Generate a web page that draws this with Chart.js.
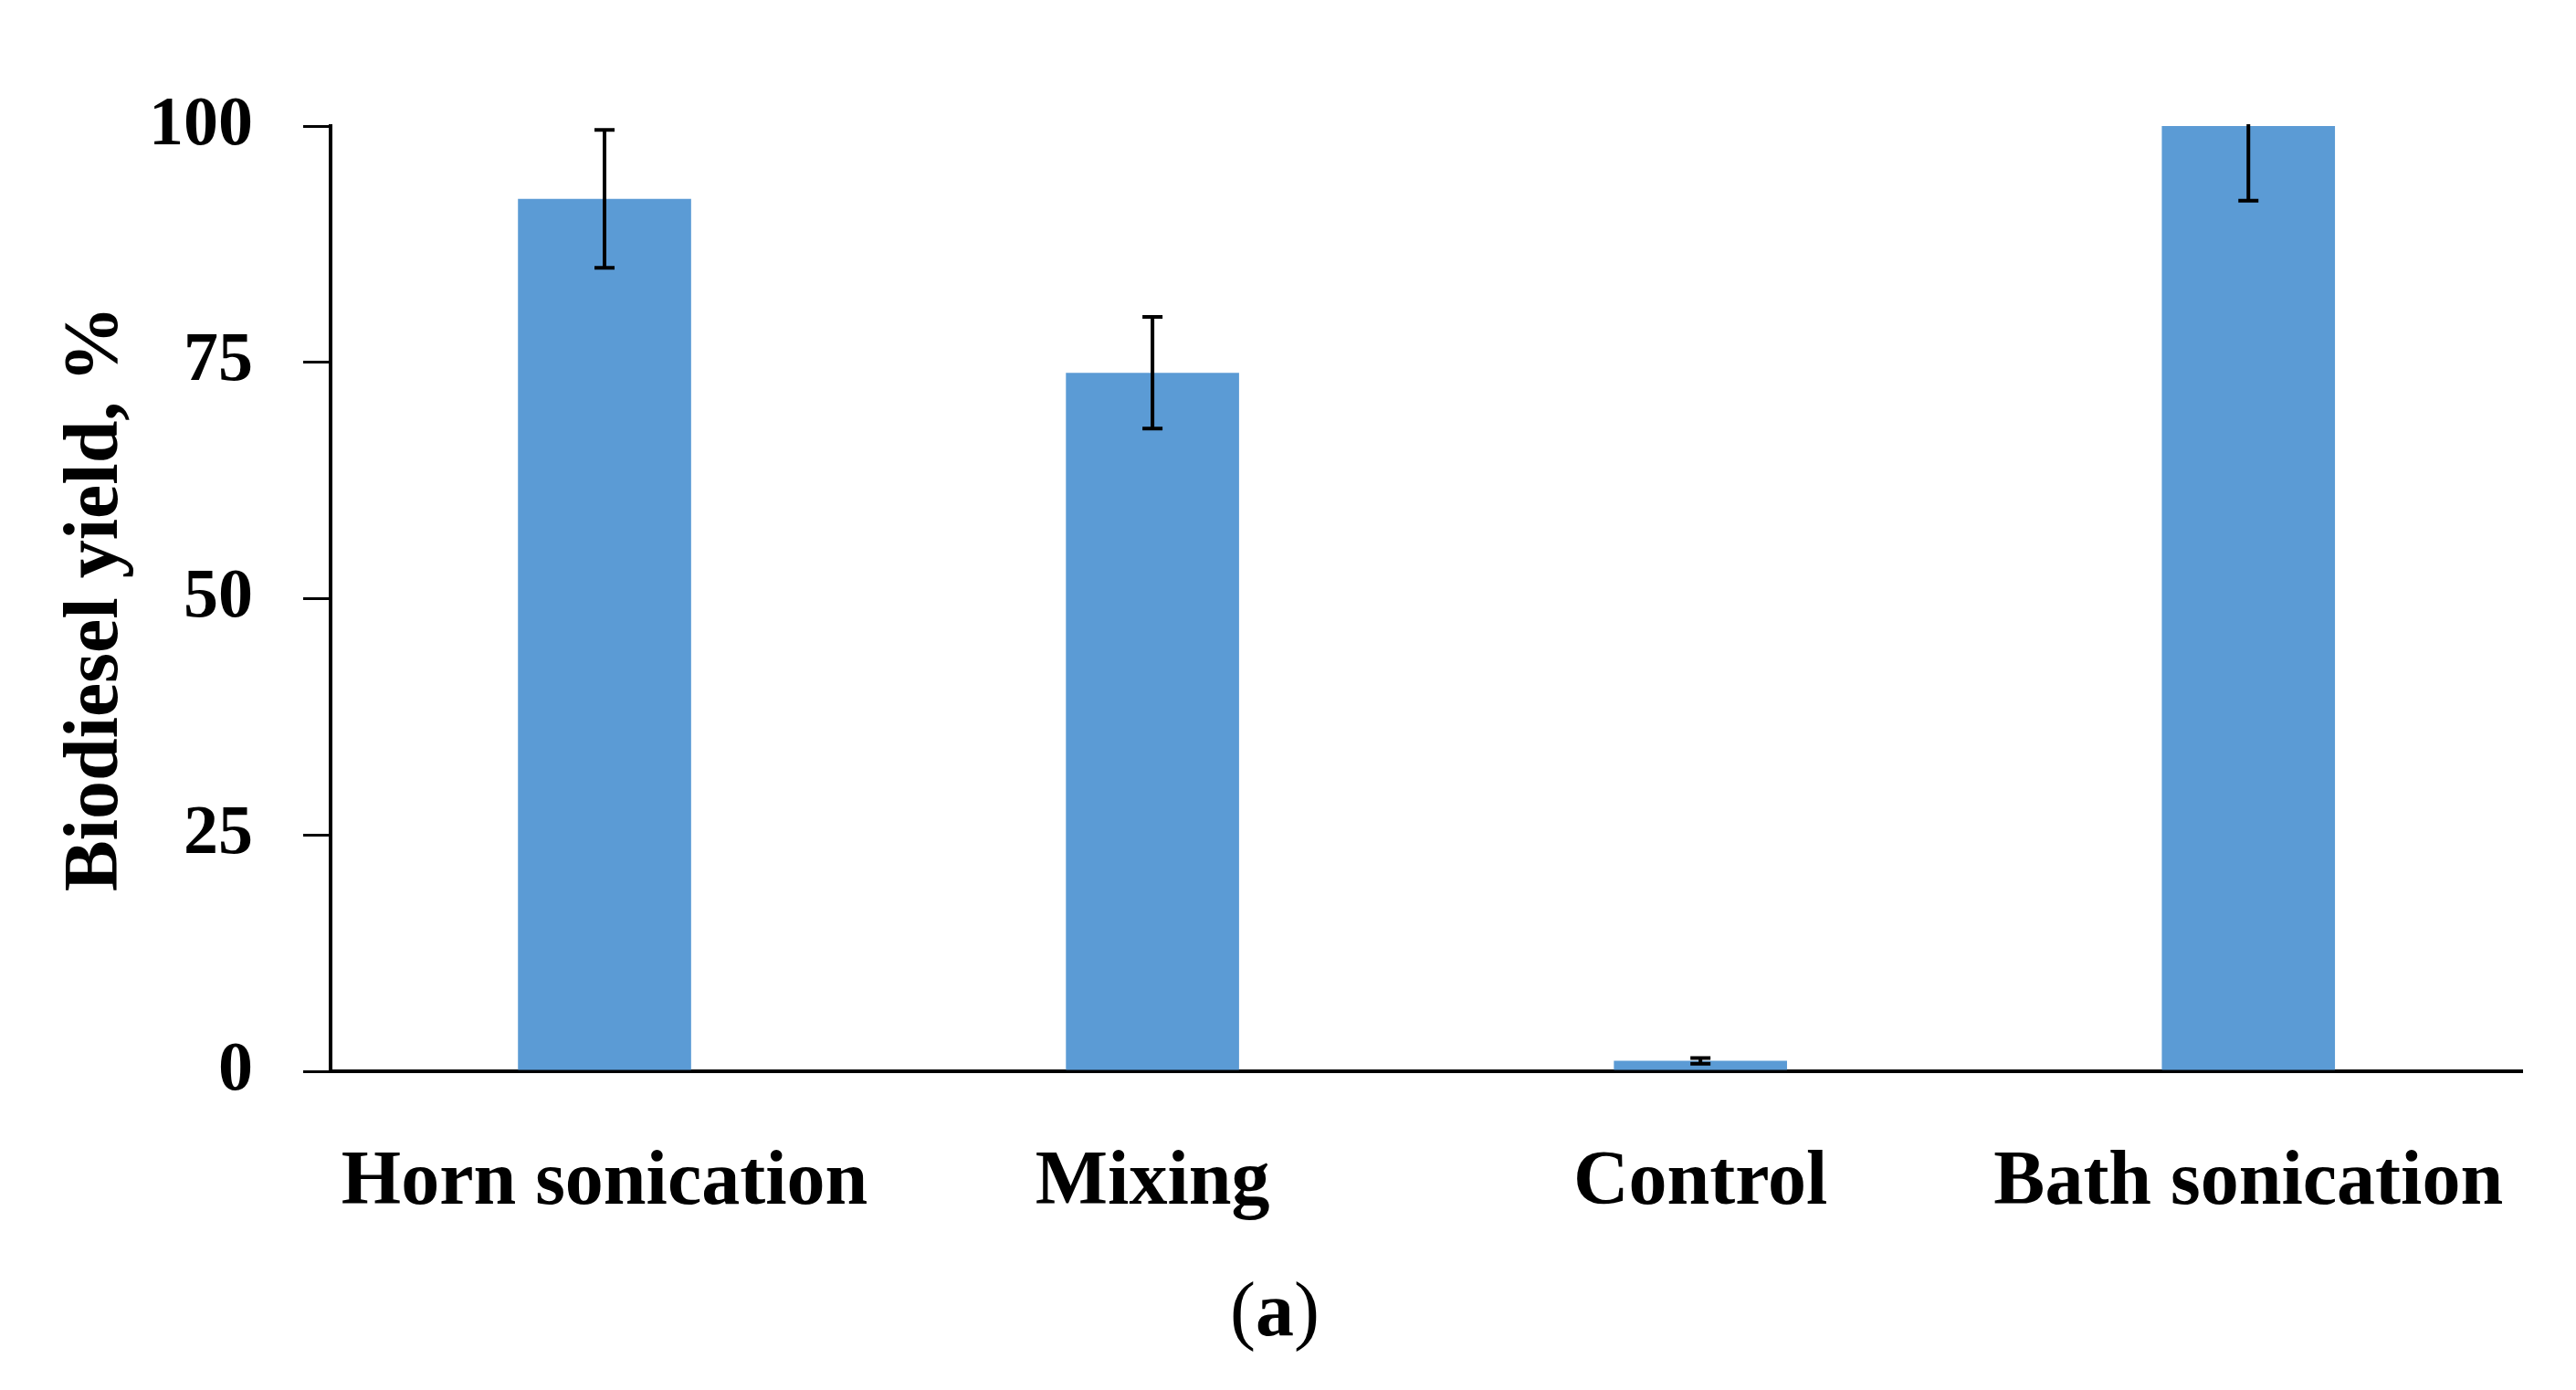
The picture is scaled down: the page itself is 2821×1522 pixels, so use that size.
<!DOCTYPE html>
<html>
<head>
<meta charset="utf-8">
<script src="https://cdn.jsdelivr.net/npm/chart.js@4"></script>
<style>
  html, body { margin: 0; padding: 0; background: #fff; }
  #wrap { width: 2821px; height: 1522px; }
</style>
</head>
<body>
<div id="wrap"><canvas id="grafYield" width="2821" height="1522"></canvas></div>
<script>
(function () {

  const categorias = ["Horn sonication", "Mixing", "Control", "Bath sonication"];
  const rendimento = [92.3, 73.9, 1.1, 100];
  const erro = [7.3, 5.9, 0.3, 7.9];
  const ticksY = [0, 25, 50, 75, 100];

  const fonte = "'Liberation Serif', 'Times New Roman', serif";

  // barras de erro, cortadas na area do grafico
  const errorBars = {
    id: "errorBars",
    afterDatasetsDraw(chart) {
      const { ctx, chartArea } = chart;
      const meta = chart.getDatasetMeta(0);
      const y = chart.scales.y;
      ctx.save();
      ctx.beginPath();
      ctx.rect(chartArea.left, chartArea.top - 2, chartArea.right - chartArea.left, chartArea.bottom - chartArea.top + 2);
      ctx.clip();
      ctx.strokeStyle = "#000";
      ctx.lineWidth = 4;
      meta.data.forEach((bar, i) => {
        const x = bar.x;
        const yTop = y.getPixelForValue(rendimento[i] + erro[i]);
        const yBot = y.getPixelForValue(rendimento[i] - erro[i]);
        const cap = 11;
        ctx.beginPath();
        ctx.moveTo(x, yTop); ctx.lineTo(x, yBot);
        ctx.moveTo(x - cap, yTop); ctx.lineTo(x + cap, yTop);
        ctx.moveTo(x - cap, yBot); ctx.lineTo(x + cap, yBot);
        ctx.stroke();
      });
      ctx.restore();
    }
  };

  // legenda "(a)" embaixo
  const legendaA = {
    id: "legendaA",
    afterDraw(chart) {
      const ctx = chart.ctx;
      const cy = chart.chartArea.bottom + 267;
      const cx = 1396;
      const normal = "84px " + fonte;
      const negrito = "bold 84px " + fonte;
      ctx.save();
      ctx.fillStyle = "#000";
      ctx.textBaseline = "middle";
      ctx.font = normal;
      const wp = ctx.measureText("(").width;
      const wf = ctx.measureText(")").width;
      ctx.font = negrito;
      const wa = ctx.measureText("a").width;
      let x = cx - (wp + wa + wf) / 2;
      ctx.textAlign = "left";
      ctx.font = normal;
      ctx.fillText("(", x, cy);
      x += wp;
      ctx.font = negrito;
      ctx.fillText("a", x, cy);
      x += wa;
      ctx.font = normal;
      ctx.fillText(")", x, cy);
      ctx.restore();
    }
  };

  new Chart(document.getElementById("grafYield"), {
    type: "bar",
    data: {
      labels: categorias,
      datasets: [{
        label: "Biodiesel yield",
        data: rendimento,
        backgroundColor: "#5b9bd5",
        borderWidth: 0,
        categoryPercentage: 1,
        barPercentage: 0.316
      }]
    },
    options: {
      responsive: false,
      animation: false,
      devicePixelRatio: 1,
      layout: { padding: { top: 138, right: 55, left: 0, bottom: 0 } },
      plugins: {
        legend: { display: false },
        tooltip: { enabled: false }
      },
      scales: {
        x: {
          afterFit(scale) { scale.height = 349; },
          grid: { display: false, drawTicks: false },
          border: { display: true, color: "#000", width: 4 },
          ticks: {
            color: "#000",
            padding: 73,
            maxRotation: 0,
            autoSkip: false,
            font: { family: fonte, size: 84, weight: "bold" }
          }
        },
        y: {
          min: 0,
          max: 100,
          afterFit(scale) { scale.width = 362; },
          afterBuildTicks(scale) { scale.ticks = ticksY.map(v => ({ value: v })); },
          grid: { drawOnChartArea: false, drawTicks: true, tickLength: 30, color: "#000", lineWidth: 3 },
          border: { display: true, color: "#000", width: 4 },
          ticks: {
            color: "#000",
            padding: 55,
            font: { family: fonte, size: 76, weight: "bold" }
          },
          title: {
            display: true,
            text: "Biodiesel yield, %",
            color: "#000",
            padding: { top: 56, bottom: 0 },
            font: { family: fonte, size: 84, weight: "bold", lineHeight: 1.2 }
          }
        }
      }
    },
    plugins: [errorBars, legendaA]
  });

})();
</script>
</body>
</html>
